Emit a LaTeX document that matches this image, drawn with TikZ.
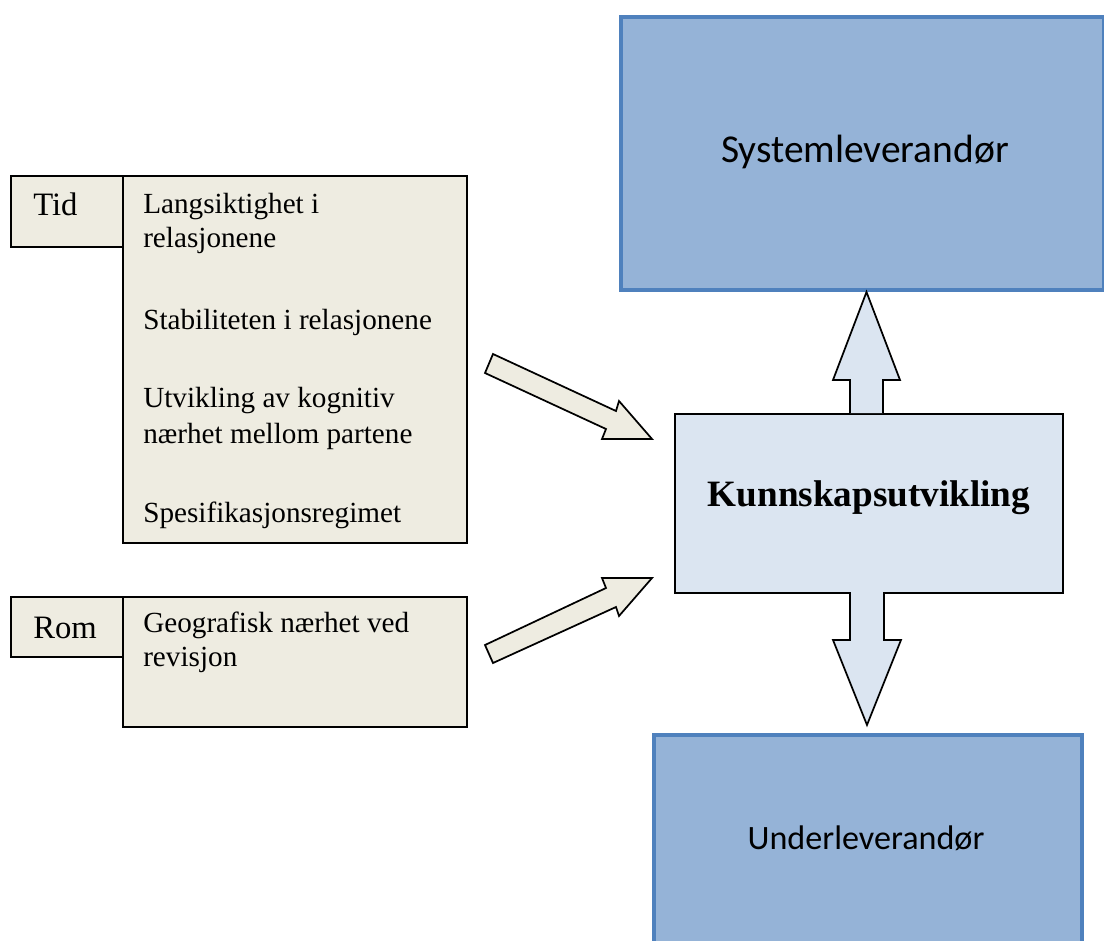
\documentclass[tikz,border=0pt]{standalone}
\usepackage{fontspec}
\setmainfont{Liberation Serif}
\newfontfamily\calfont{Carlito}
\definecolor{tan}{HTML}{EEECE1}
\definecolor{bluefill}{HTML}{95B3D7}
\definecolor{blueline}{HTML}{4F81BD}
\definecolor{lightblue}{HTML}{DBE5F1}
\begin{document}
\begin{tikzpicture}[x=0.75pt,y=-0.75pt,
  tanbox/.style={draw=black,fill=tan,line width=1.3pt,rectangle,inner sep=0pt,anchor=north west},
  bluebox/.style={draw=blueline,fill=bluefill,line width=3pt,rectangle,inner sep=0pt,anchor=north west},
  midbox/.style={draw=black,fill=lightblue,line width=1.3pt,rectangle,inner sep=0pt,anchor=north west},
  blockarrow/.style={draw=black,line width=1.3pt,line join=miter},
  listtext/.style={anchor=base west,inner sep=0pt,font=\fontsize{21.9}{25.2}\selectfont},
  labeltext/.style={anchor=base west,inner sep=0pt,font=\fontsize{24.5}{28}\selectfont}
]
\useasboundingbox (0,0) rectangle (1104,940);
\clip (0,0) rectangle (1104,940);
\fill[white] (0,0) rectangle (1104,940);

% left boxes
\node[tanbox,minimum width=258pt,minimum height=275.25pt] (tidlist) at (122,175) {};
\node[tanbox,minimum width=84pt,minimum height=53.25pt] (tid) at (10,175) {};
\node[tanbox,minimum width=258pt,minimum height=97.5pt] (romlist) at (122,596) {};
\node[tanbox,minimum width=84pt,minimum height=45pt] (rom) at (10,596) {};

\node[labeltext] (tidtxt) at (33,215) {Tid};
\node[listtext] (t1) at (143,213) {Langsiktighet i};
\node[listtext] (t2) at (143,247) {relasjonene};
\node[listtext] (t3) at (143,329) {Stabiliteten i relasjonene};
\node[listtext] (t4) at (143,407) {Utvikling av kognitiv};
\node[listtext] (t5) at (143,443) {nærhet mellom partene};
\node[listtext] (t6) at (143,522) {Spesifikasjonsregimet};
\node[labeltext] (romtxt) at (33,638) {Rom};
\node[listtext] (r1) at (143,632) {Geografisk nærhet ved};
\node[listtext] (r2) at (143,666) {revisjon};

% right boxes
\node[bluebox,minimum width=362.25pt,minimum height=204.75pt] (sys) at (619,15) {};
\node[font=\calfont\fontsize{29.6}{34}\selectfont] (systxt) at (865,152) {Systemleverandør};
\node[midbox,minimum width=291pt,minimum height=134.25pt] (kunn) at (674,413) {};
\node[font=\bfseries\fontsize{27.9}{32}\selectfont] (kunntxt) at (869,498) {Kunnskapsutvikling};
\node[bluebox,minimum width=321pt,minimum height=200pt] (under) at (652,733) {};
\node[font=\calfont\fontsize{25.6}{30}\selectfont] (undertxt) at (866,838) {Underleverandør};

% vertical block arrows
\draw[blockarrow,fill=lightblue]
  (850,413) -- (850,380) -- (833,380) -- (866.5,292) -- (900,380) -- (883,380) -- (883,413);
\draw[blockarrow,fill=lightblue]
  (850,592) -- (850,640) -- (833,640) -- (867,725) -- (901,640) -- (884,640) -- (884,592);

% slanted block arrows
\draw[blockarrow,fill=tan]
  (493,354) -- (616,411) -- (619,401) -- (652,439) -- (602,439) -- (606,429) -- (485,373) -- cycle;
\draw[blockarrow,fill=tan]
  (493,663) -- (616,607) -- (619,616) -- (652,578) -- (602,578) -- (606,588) -- (485,645) -- cycle;
\end{tikzpicture}
\end{document}
